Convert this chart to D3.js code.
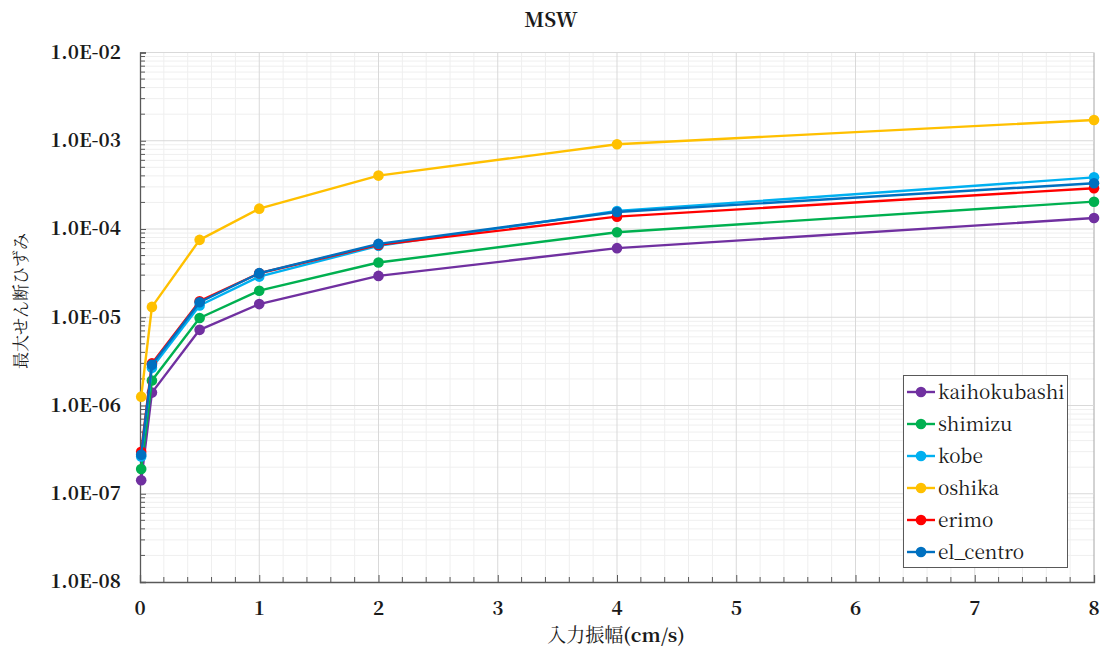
<!DOCTYPE html>
<html>
<head>
<meta charset="utf-8">
<script src="https://cdn.jsdelivr.net/npm/d3@7"></script>
<style>
  html, body { margin: 0; padding: 0; background: #ffffff; }
  svg { display: block; }
</style>
</head>
<body>
<svg id="chart" width="1107" height="653"></svg>
<script>
// Input amplitude (cm/s)
const amplitudes = [0.01, 0.1, 0.5, 1, 2, 4, 8];

// Maximum shear strain per record
const seriesNames = ["kaihokubashi", "shimizu", "kobe", "oshika", "erimo", "el_centro"];
const kaihokubashi = [1.42e-7, 1.40e-6, 7.2e-6, 1.41e-5, 2.94e-5, 6.07e-5, 1.33e-4];
const shimizu      = [1.91e-7, 1.92e-6, 9.8e-6, 2.00e-5, 4.17e-5, 9.2e-5, 2.04e-4];
const kobe         = [2.65e-7, 2.67e-6, 1.36e-5, 2.89e-5, 6.44e-5, 1.60e-4, 3.85e-4];
const oshika       = [1.26e-6, 1.31e-5, 7.53e-5, 1.70e-4, 4.03e-4, 9.12e-4, 1.72e-3];
const erimo        = [2.99e-7, 3.0e-6, 1.52e-5, 3.15e-5, 6.6e-5, 1.38e-4, 2.90e-4];
const el_centro    = [2.77e-7, 2.89e-6, 1.48e-5, 3.16e-5, 6.78e-5, 1.56e-4, 3.30e-4];
const seriesValues = [kaihokubashi, shimizu, kobe, oshika, erimo, el_centro];
const seriesColors = ["#7030A0", "#00B050", "#00B0F0", "#FFC000", "#FF0000", "#0070C0"];

const xTickValues = [0, 1, 2, 3, 4, 5, 6, 7, 8];
const yTickValues = [1e-8, 1e-7, 1e-6, 1e-5, 1e-4, 1e-3, 1e-2];

const titleText = "MSW";
const xTitleJa = "入力振幅";
const xTitleUnit = "(cm/s)";
const yTitle = "最大せん断ひずみ";

const svg = d3.select("#chart");
const W = 1107, H = 653;
const margin = { left: 140, right: 13, top: 52.5, bottom: 71 };

const x = d3.scaleLinear().domain([0, 8]).range([margin.left, W - margin.right]);
const y = d3.scaleLog().domain([1e-8, 1e-2]).range([H - margin.bottom, margin.top]);

const textFont = "Noto Serif CJK JP";

// minor grid values
const xMinor = d3.range(0, 8.0001, 0.2).filter(v => Math.abs(v - Math.round(v)) > 1e-6);
const yMinor = [];
for (let e = -8; e < -2; e++) {
  for (let m = 2; m <= 9; m++) yMinor.push(m * Math.pow(10, e));
}

const grid = svg.append("g");
grid.selectAll(".gxm").data(xMinor).join("line")
  .attr("x1", d => x(d)).attr("x2", d => x(d))
  .attr("y1", y(1e-8)).attr("y2", y(1e-2))
  .attr("stroke", "#efefef").attr("stroke-width", 1);
grid.selectAll(".gym").data(yMinor).join("line")
  .attr("x1", x(0)).attr("x2", x(8))
  .attr("y1", d => y(d)).attr("y2", d => y(d))
  .attr("stroke", "#efefef").attr("stroke-width", 1);
grid.selectAll(".gx").data(xTickValues.filter(v => v > 0)).join("line")
  .attr("x1", d => x(d)).attr("x2", d => x(d))
  .attr("y1", y(1e-8)).attr("y2", y(1e-2))
  .attr("stroke", d => d === 8 ? "#a6a6a6" : "#d9d9d9").attr("stroke-width", 1);
grid.selectAll(".gy").data(yTickValues.filter(v => v > 1e-8)).join("line")
  .attr("x1", x(0)).attr("x2", x(8))
  .attr("y1", d => y(d)).attr("y2", d => y(d))
  .attr("stroke", "#d9d9d9").attr("stroke-width", 1);

// y axis with inward ticks
const yAxisG = svg.append("g").attr("transform", `translate(${x(0)},0)`);
yAxisG.call(d3.axisRight(y).tickValues(yTickValues).tickSize(6).tickFormat(""));
yAxisG.selectAll(".yminor").data(yMinor).join("line")
  .attr("class", "yminor")
  .attr("x1", 0).attr("x2", 5).attr("y1", d => y(d)).attr("y2", d => y(d))
  .attr("stroke", "#595959");
yAxisG.select(".domain").attr("stroke", "#595959").attr("stroke-width", 1.3);
yAxisG.selectAll(".tick line").attr("stroke", "#595959");

const fmtExp = v => {
  const e = Math.round(Math.log10(v));
  return "1.0E" + (e < 0 ? "-" : "+") + String(Math.abs(e)).padStart(2, "0");
};
svg.append("g").selectAll("text").data(yTickValues).join("text")
  .attr("x", 121).attr("y", d => y(d)).attr("dy", "0.33em")
  .attr("text-anchor", "end")
  .attr("font-family", textFont).attr("font-weight", "bold").attr("font-size", 19)
  .attr("fill", "#1a1a1a")
  .text(fmtExp);

// x axis with inward ticks
const xAxisG = svg.append("g").attr("transform", `translate(0,${y(1e-8)})`);
xAxisG.call(d3.axisTop(x).tickValues(xTickValues).tickSize(7).tickFormat(""));
xAxisG.selectAll(".xminor").data(xMinor).join("line")
  .attr("class", "xminor")
  .attr("x1", d => x(d)).attr("x2", d => x(d)).attr("y1", 0).attr("y2", -5)
  .attr("stroke", "#595959");
xAxisG.select(".domain").attr("stroke", "#595959").attr("stroke-width", 1.3);
xAxisG.selectAll(".tick line").attr("stroke", "#595959");

svg.append("g").selectAll("text").data(xTickValues).join("text")
  .attr("x", d => x(d)).attr("y", 615)
  .attr("text-anchor", "middle")
  .attr("font-family", textFont).attr("font-weight", "bold").attr("font-size", 19)
  .attr("fill", "#1a1a1a")
  .text(d => d);

// series lines and markers
const line = d3.line().x(d => x(d[0])).y(d => y(d[1]));
seriesNames.forEach((name, i) => {
  const pts = amplitudes.map((a, j) => [a, seriesValues[i][j]]);
  const g = svg.append("g").attr("class", "series-" + name);
  g.append("path").datum(pts)
    .attr("d", line).attr("fill", "none")
    .attr("stroke", seriesColors[i]).attr("stroke-width", 2.4)
    .attr("stroke-linejoin", "round");
  g.selectAll("circle").data(pts).join("circle")
    .attr("cx", d => x(d[0])).attr("cy", d => y(d[1])).attr("r", 5.3)
    .attr("fill", seriesColors[i]);
});

// titles
svg.append("text").attr("x", 551).attr("y", 27).attr("text-anchor", "middle")
  .attr("font-family", textFont).attr("font-weight", "bold").attr("font-size", 20)
  .attr("fill", "#1a1a1a").text(titleText);

const xt = svg.append("text").attr("x", 616).attr("y", 642).attr("text-anchor", "middle")
  .attr("font-family", textFont).attr("fill", "#1a1a1a");
xt.append("tspan").attr("font-size", 19).text(xTitleJa);
xt.append("tspan").attr("font-weight", "bold").attr("font-size", 19).text(xTitleUnit);

svg.append("text")
  .attr("transform", "translate(27,301) rotate(-90)")
  .attr("text-anchor", "middle")
  .attr("font-family", textFont).attr("font-size", 17)
  .attr("fill", "#1a1a1a").text(yTitle);

// legend
const lg = svg.append("g");
lg.append("rect").attr("x", 903.5).attr("y", 375.5).attr("width", 164).attr("height", 192)
  .attr("fill", "#ffffff").attr("stroke", "#595959").attr("stroke-width", 1);
seriesNames.forEach((name, i) => {
  const yy = 392 + i * 32;
  lg.append("line").attr("x1", 907).attr("x2", 935).attr("y1", yy).attr("y2", yy)
    .attr("stroke", seriesColors[i]).attr("stroke-width", 2.4);
  lg.append("circle").attr("cx", 921).attr("cy", yy).attr("r", 5.3).attr("fill", seriesColors[i]);
  lg.append("text").attr("x", 938).attr("y", yy).attr("dy", "0.36em")
    .attr("font-family", textFont).attr("font-size", 19)
    .attr("fill", "#1a1a1a").text(name);
});
</script>
</body>
</html>
